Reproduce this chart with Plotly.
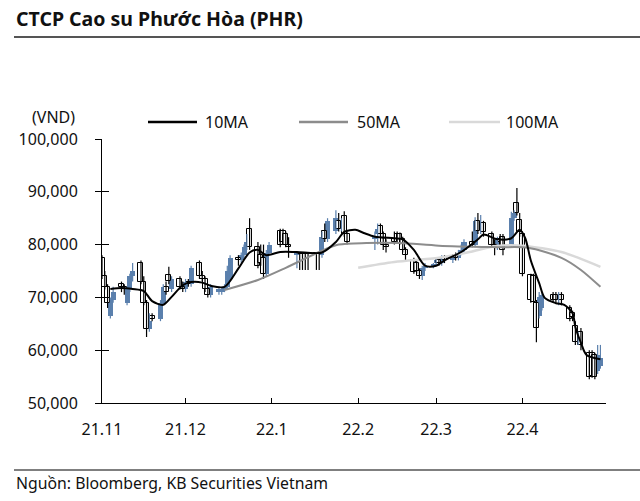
import plotly.graph_objects as go

# ---------------- data (prices in thousand VND) ----------------
nov_days = [1, 2, 3, 4, 5, 8, 9, 10, 11, 12, 15, 16, 17, 18, 19, 22, 23, 24, 25, 26, 29, 30]
dec_days = [1, 2, 3, 6, 7, 8, 9, 10, 13, 14, 15, 16, 17, 20, 21, 22, 23, 24, 27, 28, 29, 30, 31]
jan_days = [4, 5, 6, 7, 10, 11, 12, 13, 14, 17, 18, 19, 20, 21, 24, 25, 26, 27, 28]
feb_days = [7, 8, 9, 10, 11, 14, 15, 16, 17, 18, 21, 22, 23, 24, 25, 28]
mar_days = [1, 2, 3, 4, 7, 8, 9, 10, 11, 14, 15, 16, 17, 18, 21, 22, 23, 24, 25, 28, 29, 30, 31]
apr_days = [1, 4, 5, 6, 7, 8, 12, 13, 14, 15, 18, 19, 20, 21, 22, 25, 26, 27, 28, 29]

opens = [
    77.5, 74, 72, 66.5, 69.5, 72.5, 72, 69, 71.5, 74, 76.5, 73, 69, 64, 66.5, 66, 69, 72, 74.3, 71.5, 73.5, 72,
    71.5, 73, 72.5, 76.5, 74, 73.5, 71.5, 70.5, 71, 71, 71.5, 72, 73.5, 77.5, 77, 78, 79.5, 83, 79.5, 78, 77.5, 74.5, 78.5,
    82.5, 82.5, 82, 80, 78, 78.5, 78.5, 78.5, 78.5, 78.5, 78.5, 78, 82.5, 81, 82.5, 84.5, 83, 85.5, 82,
    81, 82, 83.5, 82, 80, 81, 82, 82, 81, 79, 77, 76.5, 75, 74, 75.5, 76,
    76.5, 77, 76.5, 77.5, 77, 78, 77.5, 78.5, 79, 80.5, 80, 84.5, 83, 84, 82, 80, 79.5, 81, 81.5, 80, 85, 87.9, 84.7,
    82, 74.2, 74, 69, 66.5, 68, 70.5, 70.5, 69.5, 70.5, 68, 67, 64.5, 62, 63.4, 59.5, 59.5, 59, 56, 57,
]
highs = [
    78, 75, 72.5, 70, 72, 73, 72.5, 72, 74.5, 76.5, 77, 74, 69.5, 67, 67, 69.5, 72.5, 73, 75.8, 74, 74, 73,
    73.5, 73.5, 76, 77, 75, 74, 72, 72.5, 72, 72, 72.5, 76, 78, 78, 78.5, 80, 82, 85, 80.5, 80, 80, 79, 80.5,
    83, 83, 82.5, 81.4, 78.7, 78.6, 78.6, 78.6, 78.6, 78.6, 78.6, 82.5, 84, 85, 86.5, 86, 85, 86.3, 82.5,
    82.5, 84, 84, 82.5, 81, 82.5, 82.5, 82.3, 81.5, 79.5, 77.5, 77, 75.5, 76, 76.5, 76.5,
    77.5, 77.5, 78, 78, 78, 78.5, 79, 80, 81, 82.5, 85.2, 86, 85.6, 84.5, 82.5, 81, 81.5, 82, 82, 86.2, 86.5, 90.7, 86,
    82.5, 74.5, 74.5, 69.5, 71, 71, 71, 71, 71, 71, 68.5, 67.5, 65.5, 63.5, 64.2, 60, 60, 59.5, 61, 61,
]
lows = [
    73.5, 71.5, 68, 66, 69, 71, 70.5, 68.5, 71, 73, 72.5, 68.5, 62.5, 63.5, 65.5, 65.5, 68.5, 70.5, 72.5, 71, 71.5, 71,
    71, 72, 72, 73.5, 73, 71, 70, 70, 70.5, 70.5, 71, 71.5, 73, 76, 76.5, 77.5, 79, 79, 75.5, 76, 73.5, 74, 78,
    79.5, 80, 79.5, 77.5, 75.5, 75.2, 75.2, 75.2, 75.2, 75.2, 75.2, 77.5, 80.5, 80.5, 82, 82.5, 82.5, 81.5, 80,
    79, 80, 81.5, 79, 78.5, 80, 80.5, 80, 78.5, 77, 74.5, 74.5, 73.5, 73.3, 75, 75.5,
    76, 76, 76, 76.5, 76.5, 77, 77, 78, 78.5, 79.5, 79.5, 82, 82, 81.5, 79.5, 78, 79, 79.5, 78, 79.5, 84.5, 85.5, 81.5,
    74, 69, 69, 61.5, 66, 67.5, 69, 69, 68.5, 68.5, 65.5, 65.5, 61, 61, 60, 54.5, 54.8, 54.5, 55.5, 56.5,
]
closes = [
    74, 72, 69, 69.5, 71, 72, 71.5, 71.5, 74, 75, 73, 69, 64, 65.5, 66, 69, 72, 71, 73.2, 73.5, 72, 71.5,
    73, 72.5, 75.5, 74, 73.5, 71.5, 70.5, 72, 71.5, 71.5, 72, 75, 77.5, 77, 78, 79.5, 80.5, 79.5, 76, 76.5, 74.5, 78.5, 80,
    80, 80.5, 80, 79.5, 78.5, 78.2, 78.3, 78.3, 78.3, 78.3, 78.3, 81.5, 81, 84.5, 85, 83, 84.5, 82, 80.5,
    81.5, 83, 82, 80, 79.5, 80.5, 81, 81, 79, 78, 74.8, 75, 74, 75.5, 76, 76.2,
    77, 76.5, 77.5, 77, 77.5, 77.5, 78.5, 79, 80.5, 80, 84.5, 82.5, 84, 82.4, 80, 79.5, 81, 80.5, 79, 85, 86, 86, 82.4,
    74.5, 69.5, 69.1, 64.2, 70, 70.5, 69.5, 69.5, 70.5, 69.5, 66, 66.2, 61.5, 63, 61, 55, 55.2, 55, 59, 58.5,
]

ma10_dates = ["2021-11-04", "2021-11-08", "2021-11-12", "2021-11-16", "2021-11-19", "2021-11-23", "2021-11-26",
              "2021-11-30", "2021-12-03", "2021-12-07", "2021-12-10", "2021-12-15", "2021-12-20", "2021-12-24",
              "2021-12-27", "2021-12-30", "2022-01-04", "2022-01-10", "2022-01-19", "2022-01-24", "2022-01-27",
              "2022-01-31", "2022-02-03", "2022-02-07", "2022-02-14", "2022-02-17", "2022-02-21", "2022-02-25",
              "2022-03-01", "2022-03-04", "2022-03-10", "2022-03-16", "2022-03-18", "2022-03-23", "2022-03-28",
              "2022-03-31", "2022-04-02", "2022-04-04", "2022-04-07", "2022-04-09", "2022-04-13", "2022-04-16",
              "2022-04-19", "2022-04-20", "2022-04-22", "2022-04-24", "2022-04-29"]
ma10_values = [71.6, 71.8, 71.6, 71.2, 69.3, 68.6, 70.1, 72.3, 72.9, 72.8, 72.2, 72.0, 75.5, 78.5, 79.0, 78.0,
               78.6, 78.6, 78.5, 80.5, 82.4, 82.8, 82.2, 81.5, 81.2, 81.0, 79.0, 76.0, 76.0, 77.0, 78.6, 81.0,
               81.9, 81.0, 81.2, 82.8, 81.2, 77.0, 72.7, 69.9, 68.9, 68.6, 67.0, 64.4, 61.4, 59.1, 58.3]

ma50_dates = ["2021-12-15", "2021-12-27", "2022-01-06", "2022-01-18", "2022-01-25", "2022-02-04", "2022-02-16",
              "2022-03-02", "2022-03-23", "2022-04-03", "2022-04-15", "2022-04-22", "2022-04-29"]
ma50_values = [71.4, 73.3, 75.6, 78.6, 80.0, 80.3, 80.3, 79.8, 79.5, 79.4, 77.5, 75.2, 72.0]

ma100_dates = ["2022-02-01", "2022-02-14", "2022-03-02", "2022-03-13", "2022-03-22", "2022-04-01", "2022-04-15",
               "2022-04-22", "2022-04-29"]
ma100_values = [75.6, 76.7, 77.5, 78.6, 79.7, 79.8, 78.6, 77.3, 75.8]

tick_dates = ["2021-11-01", "2021-12-01", "2022-01-01", "2022-02-01", "2022-03-01", "2022-04-01", "2022-05-01"]
tick_labels = ["21.11", "21.12", "22.1", "22.2", "22.3", "22.4", ""]
y_ticks = [50000, 60000, 70000, 80000, 90000, 100000]

# ---------------- build ----------------
dates = ([f"2021-11-{d:02d}" for d in nov_days] + [f"2021-12-{d:02d}" for d in dec_days] +
         [f"2022-01-{d:02d}" for d in jan_days] + [f"2022-02-{d:02d}" for d in feb_days] +
         [f"2022-03-{d:02d}" for d in mar_days] + [f"2022-04-{d:02d}" for d in apr_days])
K = 1000
BLUE = "#5b80ad"
FONT = "Noto Sans"

up_x, up_base, up_h = [], [], []
dn_x, dn_base, dn_h = [], [], []
wu_x, wu_y, wd_x, wd_y = [], [], [], []
for d, o, h, l, c in zip(dates, opens, highs, lows, closes):
    if c >= o:
        up_x.append(d); up_base.append(o * K); up_h.append(max(c - o, 0.15) * K)
        wu_x += [d, d, None]; wu_y += [l * K, h * K, None]
    else:
        dn_x.append(d); dn_base.append(c * K); dn_h.append((o - c) * K)
        wd_x += [d, d, None]; wd_y += [l * K, h * K, None]

bw = 1.8 * 86400000

fig = go.Figure()
fig.add_trace(go.Scatter(x=wu_x, y=wu_y, mode="lines", line=dict(color=BLUE, width=1.2),
                         showlegend=False, hoverinfo="skip"))
fig.add_trace(go.Scatter(x=wd_x, y=wd_y, mode="lines", line=dict(color="black", width=1.2),
                         showlegend=False, hoverinfo="skip"))
fig.add_trace(go.Bar(x=up_x, y=up_h, base=up_base, width=bw, marker=dict(color=BLUE, line=dict(width=0)),
                     showlegend=False))
fig.add_trace(go.Bar(x=dn_x, y=dn_h, base=dn_base, width=bw,
                     marker=dict(color="white", line=dict(color="black", width=1)), showlegend=False))
fig.add_trace(go.Scatter(x=ma100_dates, y=[v * K for v in ma100_values], mode="lines",
                         line=dict(color="#d9d9d9", width=2.5, shape="spline", smoothing=0.8),
                         name="100MA", showlegend=False))
fig.add_trace(go.Scatter(x=ma50_dates, y=[v * K for v in ma50_values], mode="lines",
                         line=dict(color="#8c8c8c", width=2, shape="spline", smoothing=0.8),
                         name="50MA", showlegend=False))
fig.add_trace(go.Scatter(x=ma10_dates, y=[v * K for v in ma10_values], mode="lines",
                         line=dict(color="black", width=2, shape="spline", smoothing=0.8),
                         name="10MA", showlegend=False))
fig.add_trace(go.Scatter(x=[], y=[], yaxis="y2", showlegend=False, hoverinfo="skip"))

W, H = 640, 501
L, R, T, B = 102, 606, 139, 403


def px(x):
    return (x - L) / (R - L)


def py(y):
    return (B - y) / (B - T)


annotations = [
    dict(text="<b>CTCP Cao su Phước Hòa (PHR)</b>", x=px(14), y=py(19), xanchor="left", yanchor="middle",
         font=dict(size=19.5, color="#111111", family=FONT)),
    dict(text="(VND)", x=px(53), y=py(117), xanchor="center", yanchor="middle",
         font=dict(size=16, color="#111111", family=FONT)),
    dict(text="Nguồn: Bloomberg, KB Securities Vietnam", x=px(14), y=py(483), xanchor="left", yanchor="middle",
         font=dict(size=15.8, color="#111111", family=FONT)),
]
shapes = [
    dict(type="line", xref="paper", yref="paper", x0=px(14), x1=px(640), y0=py(37), y1=py(37),
         line=dict(color="#555555", width=2)),
    dict(type="line", xref="paper", yref="paper", x0=px(14), x1=px(640), y0=py(470), y1=py(470),
         line=dict(color="#555555", width=1.5)),
]
legend_items = [("10MA", "black", 148, 197, 203), ("50MA", "#8c8c8c", 299, 348, 355),
                ("100MA", "#d9d9d9", 449, 500, 504)]
for name, col, x0, x1, xt in legend_items:
    shapes.append(dict(type="line", xref="paper", yref="paper", x0=px(x0), x1=px(x1), y0=py(122), y1=py(122),
                       line=dict(color=col, width=2.5)))
    annotations.append(dict(text=name, x=px(xt), y=py(122), xanchor="left", yanchor="middle",
                            font=dict(size=16, color="#111111", family=FONT)))
for a in annotations:
    a.update(xref="paper", yref="paper", showarrow=False)

fig.update_layout(
    width=W, height=H,
    margin=dict(l=L, r=W - R, t=T, b=H - B, pad=0),
    paper_bgcolor="white", plot_bgcolor="white",
    barmode="overlay", bargap=0,
    font=dict(family=FONT, size=16, color="#111111"),
    xaxis=dict(type="date", range=["2021-11-01", "2022-05-01"], tickvals=tick_dates, ticktext=tick_labels,
               ticks="inside", ticklen=5, tickcolor="black", showline=True, linecolor="black", linewidth=1,
               showgrid=False, zeroline=False, ticklabelstandoff=12, tickfont=dict(size=16)),
    yaxis=dict(range=[50000, 100000], tickvals=y_ticks, tickformat=",.0f", ticks="outside", ticklen=6,
               tickcolor="black", showline=True, linecolor="black", linewidth=1, showgrid=False,
               zeroline=False, ticklabelstandoff=14, tickfont=dict(size=16)),
    yaxis2=dict(range=[50000, 100000], overlaying="y", side="left", anchor="x", tickvals=y_ticks,
                ticks="inside", ticklen=7, tickcolor="black", showticklabels=False, showline=False,
                showgrid=False, zeroline=False),
    annotations=annotations, shapes=shapes, hovermode=False,
)

fig.write_html("out.html")
